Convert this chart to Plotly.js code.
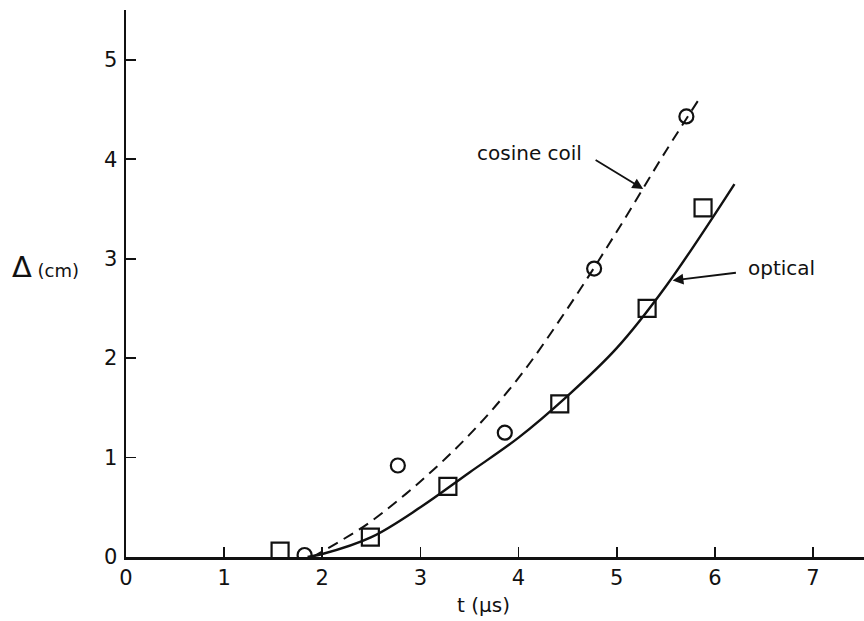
<!DOCTYPE html>
<html>
<head>
<meta charset="utf-8">
<script src="https://cdn.plot.ly/plotly-3.0.1.min.js"></script>
<style>html,body{margin:0;padding:0;background:#fff;}#chart{width:864px;height:621px;}</style>
</head>
<body>
<div id="chart"></div>
<script>
// Data points
var opticalT = [1.57, 2.49, 3.28, 4.42, 5.31, 5.88];
var opticalD = [0.06, 0.20, 0.71, 1.54, 2.50, 3.51];
var coilT = [1.82, 2.77, 3.86, 4.77, 5.71];
var coilD = [0.02, 0.92, 1.25, 2.90, 4.43];
// Curves
var opticalCurveT = [1.85, 2.0, 2.5, 3.0, 3.5, 4.0, 4.5, 5.0, 5.5, 6.2];
var opticalCurveD = [0.0, 0.03, 0.20, 0.50, 0.85, 1.20, 1.62, 2.10, 2.72, 3.75];
var coilCurveT = [1.9, 2.2, 2.5, 3.0, 3.5, 4.0, 4.5, 5.0, 5.5, 5.85];
var coilCurveD = [0.0, 0.17, 0.36, 0.76, 1.23, 1.80, 2.50, 3.27, 4.08, 4.62];
var xTicks = [0, 1, 2, 3, 4, 5, 6, 7];
var yTicks = [0, 1, 2, 3, 4, 5];

var FONT = "DejaVu Sans, Liberation Sans, sans-serif";
var ink = "#111";

var traces = [
  {x: coilCurveT, y: coilCurveD, mode: "lines", line: {color: ink, width: 2, dash: "11px,7px", shape: "spline"}, hoverinfo: "skip"},
  {x: opticalCurveT, y: opticalCurveD, mode: "lines", line: {color: ink, width: 2.4, shape: "spline"}, hoverinfo: "skip"},
  {x: opticalT, y: opticalD, mode: "markers", marker: {symbol: "square-open", size: 17, color: ink, line: {width: 2.2, color: ink}}},
  {x: coilT, y: coilD, mode: "markers", marker: {symbol: "circle-open", size: 14, color: ink, line: {width: 2.2, color: ink}}}
];

var layout = {
  width: 864, height: 621,
  margin: {l: 126, r: 0, t: 10, b: 64},
  paper_bgcolor: "#fff", plot_bgcolor: "#fff",
  showlegend: false,
  xaxis: {
    range: [0, 7.52], tickvals: xTicks, ticktext: xTicks.map(String),
    ticks: "inside", ticklen: 10, tickwidth: 1.8, tickcolor: ink,
    showline: true, linecolor: ink, linewidth: 2.5, showgrid: false, zeroline: false,
    tickfont: {family: FONT, size: 21, color: ink}
  },
  yaxis: {
    range: [0, 5.5], tickvals: yTicks, ticktext: yTicks.map(String),
    ticks: "inside", ticklen: 10, tickwidth: 1.8, tickcolor: ink,
    showline: true, linecolor: ink, linewidth: 2.5, showgrid: false, zeroline: false,
    tickfont: {family: FONT, size: 21, color: ink}, ticklabelstandoff: 2
  },
  annotations: [
    {xref: "paper", yref: "paper", x: 0.484, y: -0.087, yanchor: "middle", xanchor: "center",
     text: "t (μs)", showarrow: false, font: {family: FONT, size: 20, color: ink}},
    {xref: "paper", yref: "paper", x: -0.157, y: 0.53, xanchor: "left", yanchor: "middle",
     text: "<span style='font-size:29px'>Δ</span> (cm)", showarrow: false, font: {family: FONT, size: 18, color: ink}},
    {xref: "x", yref: "y", x: 4.11, y: 4.06, text: "cosine coil", showarrow: false,
     font: {family: FONT, size: 20, color: ink}},
    {xref: "x", yref: "y", x: 6.68, y: 2.91, text: "optical", showarrow: false,
     font: {family: FONT, size: 20, color: ink}},
    {xref: "x", yref: "y", x: 5.27, y: 3.70, axref: "x", ayref: "y", ax: 4.77, ay: 4.0,
     text: "", showarrow: true, arrowhead: 2, arrowsize: 1.2, arrowwidth: 1.8, arrowcolor: ink, standoff: 0},
    {xref: "x", yref: "y", x: 5.57, y: 2.78, axref: "x", ayref: "y", ax: 6.23, ay: 2.86,
     text: "", showarrow: true, arrowhead: 2, arrowsize: 1.2, arrowwidth: 1.8, arrowcolor: ink, standoff: 0}
  ]
};

Plotly.newPlot("chart", traces, layout, {displayModeBar: false, staticPlot: true});
</script>
</body>
</html>
